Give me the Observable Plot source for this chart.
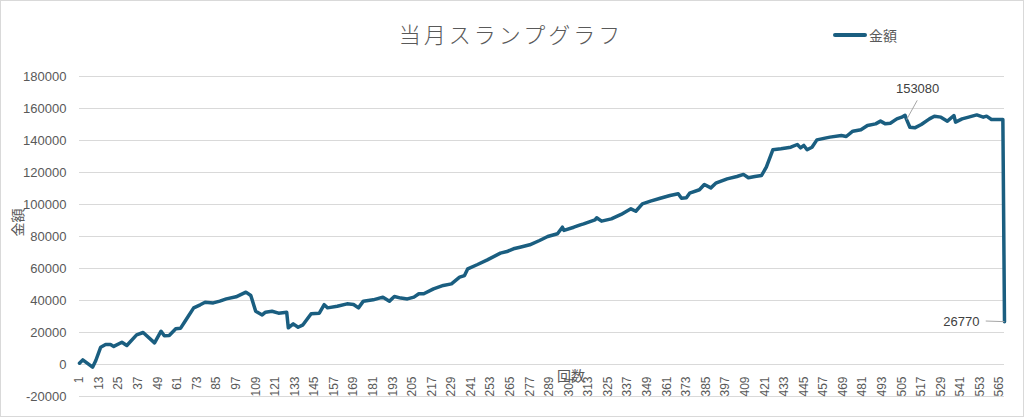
<!DOCTYPE html>
<html>
<head>
<meta charset="utf-8">
<script src="https://cdn.jsdelivr.net/npm/d3@7"></script>
<script src="https://cdn.jsdelivr.net/npm/@observablehq/plot@0.6"></script>
<style>
  html, body { margin: 0; padding: 0; background: #fff; }
  #wrap { position: relative; width: 1024px; height: 417px; box-sizing: border-box; border: 1px solid #d9d9d9; background: #fff; overflow: hidden; }
  #head { position: relative; height: 59px; }
  #title { position: absolute; left: 0; width: 1020px; top: 18px; text-align: center; font-family: "Noto Sans CJK JP", sans-serif; font-weight: 300; font-size: 22px; letter-spacing: 3px; color: #595959; line-height: 28px; }
  #legend { position: absolute; left: 832px; top: 24px; display: flex; align-items: center; font-family: "Noto Sans CJK JP", sans-serif; font-size: 14px; color: #595959; }
  #legend .sw { width: 34px; height: 4px; background: #1a5e80; border-radius: 2px; margin-right: 2px; }
  svg { display: block; }
</style>
</head>
<body>
<div id="wrap">
  <div id="head">
    <div id="title">当月スランプグラフ</div>
    <div id="legend"><span class="sw"></span><span>金額</span></div>
  </div>
  <div id="chart"></div>
</div>
<script>
// 回数 (index)
const counts = [1,3,9,11,14,17,20,22,27,30,36,40,47,51,53,56,60,63,66,71,75,78,83,87,91,97,103,106,109,113,115,119,123,128,129,132,135,138,143,148,151,153,159,165,169,172,175,181,187,191,194,198,202,206,209,212,218,224,229,234,237,239,245,251,259,263,267,271,277,283,288,294,297,298,304,308,310,317,318,321,327,333,339,342,346,351,357,363,368,370,373,375,381,384,388,391,398,404,408,411,415,419,422,426,431,437,441,443,445,447,450,453,458,461,468,471,475,480,484,489,492,495,498,502,505,507,508,510,513,517,522,525,529,533,537,538,542,546,551,555,557,560,567,568];
// 金額 values
const amounts = [800,2900,-1700,2500,10800,12500,12500,11300,13900,11900,18500,20000,13500,20800,17900,18100,22300,22700,27500,35400,37300,38900,38500,39600,41000,42300,45200,43100,33300,31000,32700,33300,32100,32700,22900,25400,23300,24800,31700,32100,37400,35400,36400,37900,37500,35400,39600,40400,42100,39600,42500,41500,41000,42100,44200,44200,47300,49400,50400,54600,55600,59800,62500,65400,69600,70600,72300,73300,74800,77500,80000,81700,85800,83800,85800,87300,87900,90400,91700,89600,91000,93800,97300,95800,100400,102100,103900,105600,106700,103900,104200,107100,109200,112500,110400,113300,116000,117500,118800,116700,117500,118100,123300,134200,134800,135800,137500,135400,136900,134200,135800,140400,141500,142100,143100,142500,145800,146700,149400,150400,152100,150400,150800,153500,154600,155800,153080,148300,147900,150000,153500,155200,154600,152100,155600,151500,153500,154600,156000,154600,155200,153100,153100,26770];
const xTicks = d3.range(1, 566, 12);
const yTicks = d3.range(-20000, 180001, 20000);
const labelled = [508, 568]; // data labels shown

const data = counts.map((c, k) => ({i: c, v: amounts[k]}));
const ann = data.filter(d => labelled.includes(d.i));
const font = `"Liberation Sans", Arial, "Noto Sans CJK JP", sans-serif`;
const grey = "#595959";

const chart = Plot.plot({
  width: 1022,
  height: 356,
  marginTop: 16,
  marginBottom: 20,
  marginLeft: 78,
  marginRight: 19,
  x: {domain: [1, 568], axis: null},
  y: {domain: [-20000, 180000], axis: null},
  style: {fontFamily: font, fontSize: "13px", color: grey, background: "white", overflow: "visible"},
  marks: [
    Plot.gridY(yTicks, {stroke: "#d9d9d9", strokeOpacity: 1, strokeWidth: 1}),
    Plot.axisY(yTicks, {tickSize: 0, tickPadding: 13, tickFormat: d => String(d), fontSize: 13, color: grey, label: null}),
    Plot.axisX(xTicks, {anchor: "bottom", tickRotate: -90, tickSize: 0, tickPadding: 0, dy: -20, tickFormat: d => String(d), fontSize: 12, color: grey, label: null}),
    Plot.text(["回数"], {frameAnchor: "bottom", dx: 29, dy: -16, fontSize: 14, fill: grey, fontFamily: `"Noto Sans CJK JP", sans-serif`}),
    Plot.text(["金額"], {frameAnchor: "left", rotate: -90, dx: -61, fontSize: 14, fill: grey, fontFamily: `"Noto Sans CJK JP", sans-serif`}),
    Plot.line(data, {x: "i", y: "v", stroke: "#1a5e80", strokeWidth: 3.5, strokeLinejoin: "round", strokeLinecap: "round"}),
    Plot.link(ann.slice(0, 1), {x1: "i", y1: "v", x2: d => d.i + 6.5, y2: d => d.v + 12000, stroke: "#a6a6a6", strokeWidth: 1}),
    Plot.link(ann.slice(1), {x1: "i", y1: "v", x2: d => d.i - 11.5, y2: d => d.v + 400, stroke: "#a6a6a6", strokeWidth: 1}),
    Plot.text(ann.slice(0, 1), {x: "i", y: "v", text: d => String(d.v), dx: 11, dy: -31, fontSize: 13, fill: "#404040"}),
    Plot.text(ann.slice(1), {x: "i", y: "v", text: d => String(d.v), textAnchor: "end", dx: -25, dy: 0, fontSize: 13, fill: "#404040"})
  ]
});
document.getElementById("chart").appendChild(chart);
</script>
</body>
</html>
